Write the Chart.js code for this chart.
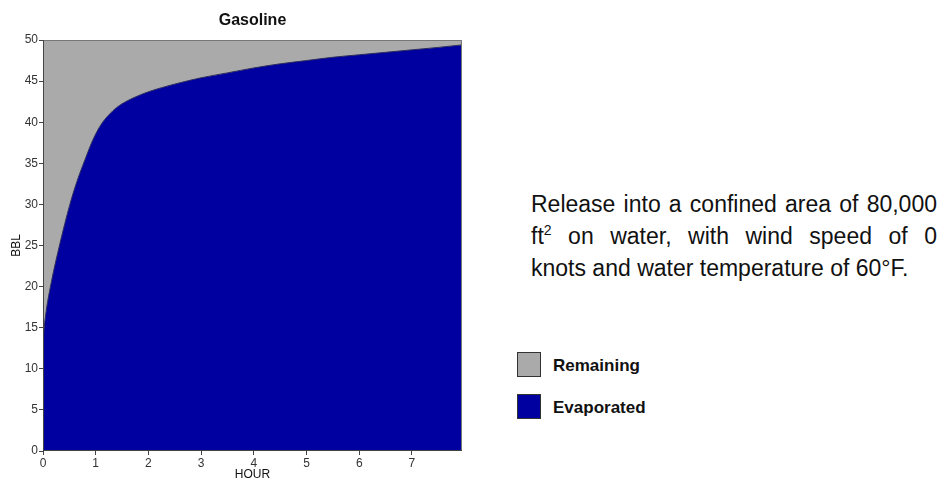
<!DOCTYPE html>
<html>
<head>
<meta charset="utf-8">
<title>Gasoline</title>
<script src="https://cdn.jsdelivr.net/npm/chart.js@4.4.1/dist/chart.umd.min.js"></script>
<style>
    body { margin: 0; background: #fff; width: 945px; height: 480px; overflow: hidden; position: relative;
           font-family: Arial, "Liberation Sans", sans-serif; }
    #chartBox { position: absolute; left: 0; top: 0; width: 480px; height: 480px; }
    #note { position: absolute; left: 531px; top: 188px; width: 406px; font-size: 23px; line-height: 32px; color: #111; }
    #note .just { text-align: justify; text-align-last: justify; white-space: nowrap; }
    #note sup { font-size: 14px; line-height: 0; vertical-align: 9px; }
    #legend { position: absolute; left: 517px; top: 352px; }
    .item { position: absolute; left: 0; width: 200px; height: 25px; }
    .swatch { position: absolute; left: 0; top: 0; width: 22px; height: 23px; border: 1px solid #333; }
    .label { position: absolute; left: 36px; top: 1px; font-size: 17px; font-weight: bold; line-height: 25px; color: #111; white-space: nowrap; }
</style>
</head>
<body>
<div id="chartBox"><canvas id="chartArea"></canvas></div>
<div id="note">
    <div class="just">Release into a confined area of 80,000</div>
    <div class="just">ft<sup>2</sup> on water, with wind speed of 0</div>
    <div>knots and water temperature of 60°F.</div>
</div>
<div id="legend"></div>
<script>
// Datos (HOUR vs BBL)
const hours = [0, 0.02, 0.06, 0.16, 0.32, 0.51, 0.65, 0.8, 0.95, 1.1, 1.25, 1.4, 1.6, 1.8, 2.0, 2.25, 2.6, 3.0, 3.5, 4.0, 4.5, 5.0, 5.5, 6.0, 6.5, 7.0, 7.5, 7.95];
const evaporated = [13, 14.8, 17, 20.6, 25.2, 30, 32.9, 35.5, 37.9, 39.7, 40.9, 41.8, 42.6, 43.2, 43.7, 44.2, 44.8, 45.4, 46.0, 46.6, 47.1, 47.5, 47.9, 48.2, 48.5, 48.8, 49.1, 49.4];
const remaining = [37, 35.2, 33, 29.4, 24.8, 20, 17.1, 14.5, 12.1, 10.3, 9.1, 8.2, 7.4, 6.8, 6.3, 5.8, 5.2, 4.6, 4.0, 3.4, 2.9, 2.5, 2.1, 1.8, 1.5, 1.2, 0.9, 0.6];
const seriesNames = ['Evaporated', 'Remaining'];
const seriesColors = ['#0000A0', '#AAAAAA'];
const legendOrder = ['Remaining', 'Evaporated'];

const xMax = 7.95;
const yMax = 50;
const fontFamily = 'Arial, "Liberation Sans", sans-serif';

function toPoints(values) {
    return hours.map((h, i) => ({ x: h, y: values[i] }));
}

// Dibuja el marco del área del gráfico
const frameLines = {
    id: 'frameLines',
    afterDraw(chart) {
        const { ctx, chartArea: a } = chart;
        ctx.save();
        ctx.lineWidth = 1;
        ctx.strokeStyle = '#777';
        ctx.beginPath();
        ctx.moveTo(a.left, a.top + 0.5);
        ctx.lineTo(a.right - 0.5, a.top + 0.5);
        ctx.lineTo(a.right - 0.5, a.bottom);
        ctx.stroke();
        ctx.strokeStyle = '#444';
        ctx.beginPath();
        ctx.moveTo(a.left + 0.5, a.top);
        ctx.lineTo(a.left + 0.5, a.bottom - 0.5);
        ctx.lineTo(a.right, a.bottom - 0.5);
        ctx.stroke();
        ctx.restore();
    }
};

new Chart(document.getElementById('chartArea'), {
    type: 'line',
    data: {
        datasets: [
            {
                label: seriesNames[0],
                data: toPoints(evaporated),
                backgroundColor: seriesColors[0],
                borderColor: '#2a2a5a',
                borderWidth: 1,
                fill: 'origin',
                pointRadius: 0,
                cubicInterpolationMode: 'monotone'
            },
            {
                label: seriesNames[1],
                data: toPoints(remaining),
                backgroundColor: seriesColors[1],
                borderWidth: 0,
                fill: '-1',
                pointRadius: 0
            }
        ]
    },
    options: {
        responsive: true,
        maintainAspectRatio: false,
        animation: false,
        layout: { padding: { left: 0, right: 18, top: 0, bottom: 0 } },
        plugins: {
            legend: { display: false },
            tooltip: { enabled: false },
            title: {
                display: true,
                text: 'Gasoline',
                fullSize: false,
                color: '#111',
                font: { family: fontFamily, size: 16, weight: 'bold' },
                padding: { top: 11, bottom: 9.8 }
            }
        },
        scales: {
            x: {
                type: 'linear',
                min: 0,
                max: xMax,
                grid: { drawOnChartArea: false, drawTicks: true, tickLength: 4, color: '#444' },
                border: { display: false },
                ticks: {
                    stepSize: 1,
                    includeBounds: false,
                    padding: 1,
                    maxRotation: 0,
                    color: '#333',
                    font: { family: fontFamily, size: 12 }
                },
                title: {
                    display: true,
                    text: 'HOUR',
                    color: '#111',
                    padding: { top: 0, bottom: -2 },
                    font: { family: fontFamily, size: 12 }
                },
                afterFit(scale) { scale.height = 29; }
            },
            y: {
                stacked: true,
                min: 0,
                max: yMax,
                grid: { drawOnChartArea: false, drawTicks: true, tickLength: 4, color: '#444' },
                border: { display: false },
                ticks: {
                    stepSize: 5,
                    padding: 1,
                    color: '#333',
                    font: { family: fontFamily, size: 12 }
                },
                title: {
                    display: true,
                    text: 'BBL',
                    color: '#111',
                    padding: { top: 9, bottom: 0 },
                    font: { family: fontFamily, size: 12 }
                },
                afterFit(scale) { scale.width = 43; }
            }
        }
    },
    plugins: [frameLines]
});

// Leyenda manual a la derecha
const legendBox = document.getElementById('legend');
legendOrder.forEach((name, i) => {
    const color = seriesColors[seriesNames.indexOf(name)];
    const item = document.createElement('div');
    item.className = 'item';
    item.style.top = (i * 42) + 'px';
    item.innerHTML = `<div class="swatch" style="background:${color}"></div><div class="label">${name}</div>`;
    legendBox.appendChild(item);
});
</script>
</body>
</html>
